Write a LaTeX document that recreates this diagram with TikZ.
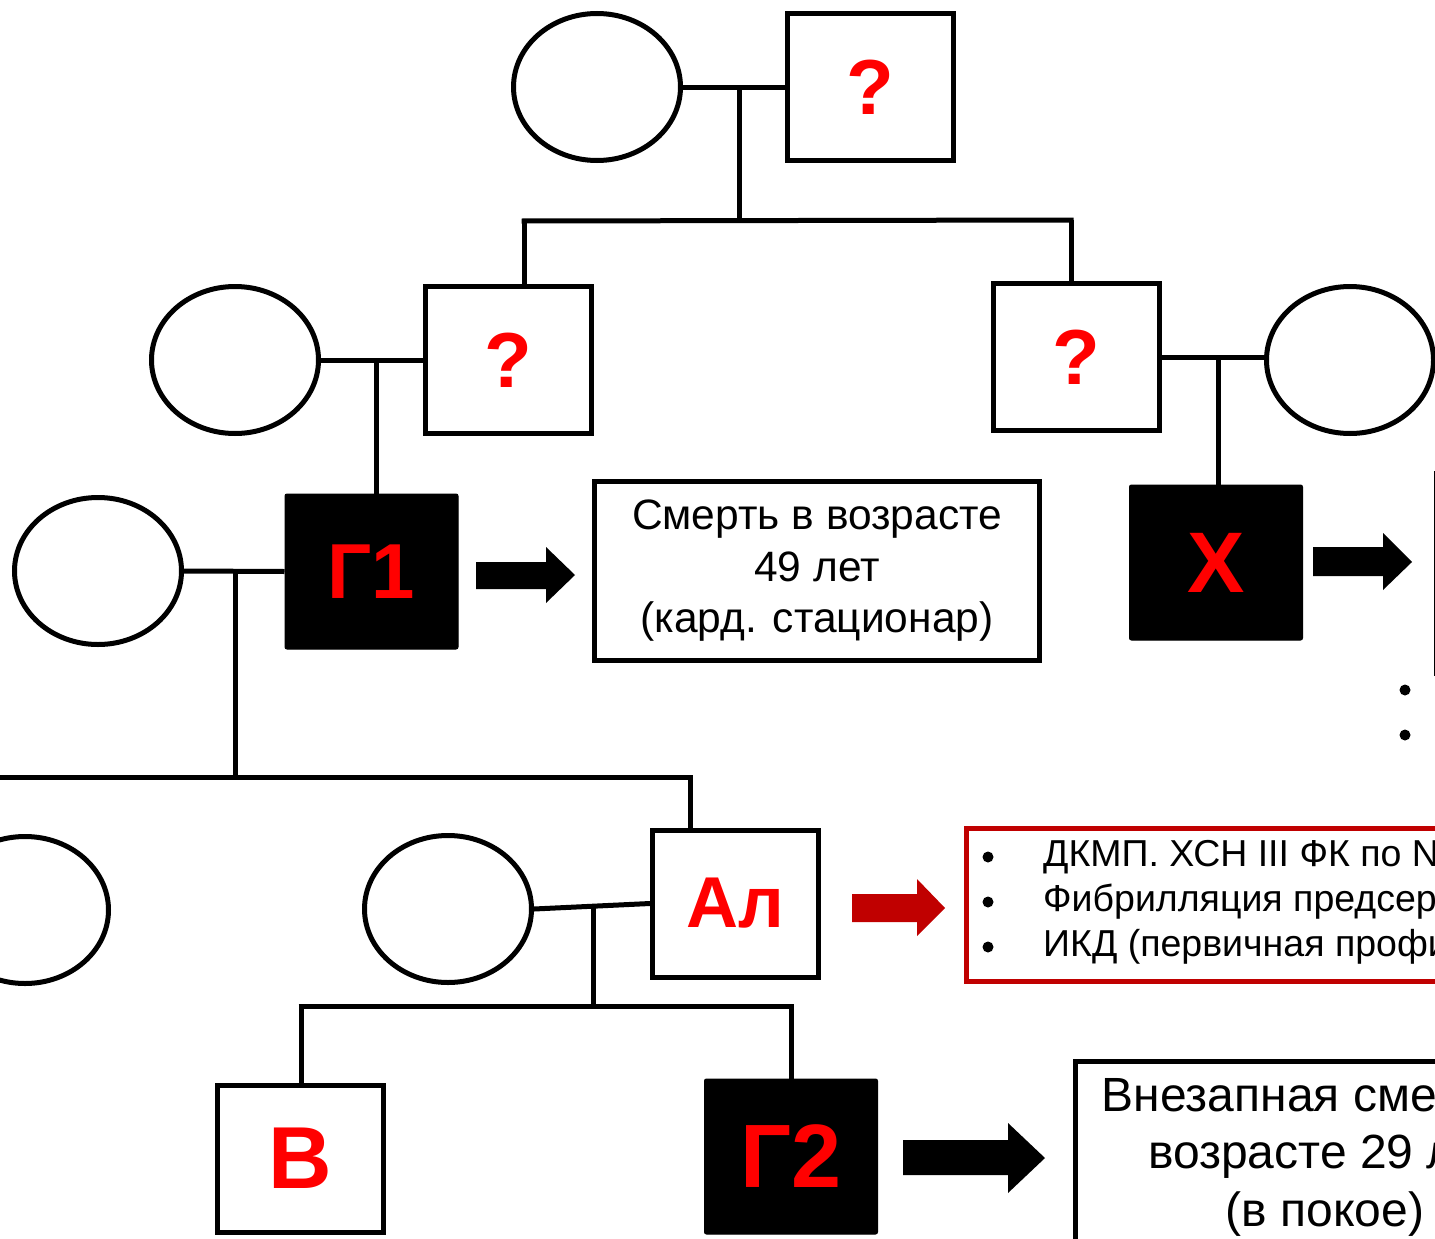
\documentclass[tikz,border=0pt]{standalone}
\usepackage{fontspec}
\setmainfont{Liberation Sans}
\usetikzlibrary{shapes.geometric}
\definecolor{darkred}{HTML}{C00000}
\definecolor{brightred}{HTML}{FF0000}
\begin{document}
\begin{tikzpicture}[x=1pt,y=-1pt,
  female/.style={ellipse,draw,line width=5pt,minimum width=167pt,minimum height=147pt,inner sep=0pt},
  male/.style={rectangle,draw,line width=5pt,minimum width=166pt,minimum height=147pt,inner sep=0pt,
     text=brightred,font=\bfseries\fontsize{78}{80}\selectfont},
  affected/.style={male,fill=black,draw=black,rounded corners=2pt,line width=1pt,minimum width=173pt,minimum height=155pt},
  tie/.style={line width=5pt},
  infobox/.style={rectangle,draw,line width=5pt,inner sep=0pt,align=center},
  blockarrow/.style={fill=black}
]
\useasboundingbox (0,0) rectangle (1435,1239);
\clip (0,0) rectangle (1435,1239);

% generation 1
\node[female] (f1) at (597,87) {};
\node[male] (m1) at (870,87) {?};
\draw[tie] (f1.east) -- (m1.west);
\coordinate (j1) at (739,88);
\coordinate (s1a) at (524,221);
\coordinate (s1b) at (1071,220);
\draw[tie] (j1) -- (j1 |- s1a);
\draw[tie] ([xshift=-2.5pt]s1a) -- ([xshift=2.5pt]s1b);

% generation 2 left
\node[female] (f2) at (235,360) {};
\node[male] (m2) at (508,360) {?};
\draw[tie] (f2.east) -- (f2.east -| m2.west);
\draw[tie] (s1a) -- (s1a |- m2.north);
\coordinate (j2) at (376,361);
\draw[tie] (j2) -- (376,494);

% generation 2 right
\node[male] (m3) at (1076,357) {?};
\node[female] (f3) at (1350,360) {};
\draw[tie] (m3.east) -- (m3.east -| f3.west);
\draw[tie] (s1b) -- (s1b |- m3.north);
\coordinate (j3) at (1218,356);

% generation 3
\node[female] (f4) at (98,571) {};
\node[affected] (g1) at (371.5,571.5) {Г1};
\draw[tie] (f4.east) -- (g1.west);
\draw[tie] (j2) -- (g1.north -| j2);
\node[affected,font=\bfseries\fontsize{86}{88}\selectfont] (x) at (1216,562.5) {Х};
\draw[tie] (j3) -- (x.north -| j3);

\node[infobox,minimum width=445pt,minimum height=179pt,font=\fontsize{42.5}{51.5}\selectfont] (d1) at (817,571)
  {Смерть в возрасте\\49 лет\\(кард. стационар)};
\fill[blockarrow] (476,562) -- (546,562) -- (546,547) -- (575,575) -- (546,603) -- (546,589) -- (476,589) -- cycle;

\node[infobox,anchor=north west,minimum width=300pt,minimum height=200pt] (d2) at (1433.5,470.5) {};
\fill[blockarrow] (1313,547) -- (1383,547) -- (1383,533) -- (1412,562) -- (1383,590) -- (1383,576) -- (1313,576) -- cycle;
\fill (1405,690) circle (5.5pt);
\fill (1405,735) circle (5.5pt);

% sibling line
\coordinate (j4) at (235,571);
\coordinate (s4) at (235,777);
\draw[tie] (j4) -- (s4);
\draw[tie] (-5,777) -- (692.5,777);

% generation 4
\node[female] (f5) at (25,910) {};
\node[female] (f6) at (448,909) {};
\node[male,font=\bfseries\fontsize{72}{74}\selectfont] (al) at (735.5,903.5) {Ал};
\draw[tie] (690,777) -- (al.north -| 690,0);
\draw[tie] (f6.east) -- (al.west);
\coordinate (j5) at (593,906);
\draw[tie] (j5) -- (593,1006);
\draw[tie] (298.5,1006) -- (793.5,1006);

\fill[darkred] (852,894) -- (917,894) -- (917,879) -- (945,908) -- (917,936) -- (917,922) -- (852,922) -- cycle;
\node[rectangle,draw=darkred,line width=5pt,anchor=north west,minimum width=600pt,minimum height=153pt] (d3) at (963.5,825.5) {};
\node[anchor=west,inner sep=0pt,font=\fontsize{37.5}{45}\selectfont,align=left] (t3) at (1043,902)
  {ДКМП. ХСН III ФК по NYHA\\Фибрилляция предсердий\\ИКД (первичная профилактика)};
\foreach \yy in {857,902,947} \fill (988,\yy) circle (5.5pt);

% generation 5
\node[male,font=\bfseries\fontsize{88}{90}\selectfont] (v) at (300.5,1158.5) {В};
\node[affected,font=\bfseries\fontsize{90}{92}\selectfont] (g2) at (791,1156.5) {Г2};
\draw[tie] (301,1006) -- (v.north -| 301,0);
\draw[tie] (791,1006) -- (g2.north -| 791,0);
\fill[blockarrow] (903,1140) -- (1008,1140) -- (1008,1123) -- (1045,1158) -- (1008,1193) -- (1008,1175) -- (903,1175) -- cycle;
\node[infobox,anchor=north west,minimum width=520pt,minimum height=220pt] (d4) at (1072.5,1058.5) {};
\node[align=center,font=\fontsize{48}{57.5}\selectfont] (t4) at (1325,1157)
  {Внезапная смерть в\\возрасте 29 лет\\(в покое)};
\end{tikzpicture}
\end{document}
